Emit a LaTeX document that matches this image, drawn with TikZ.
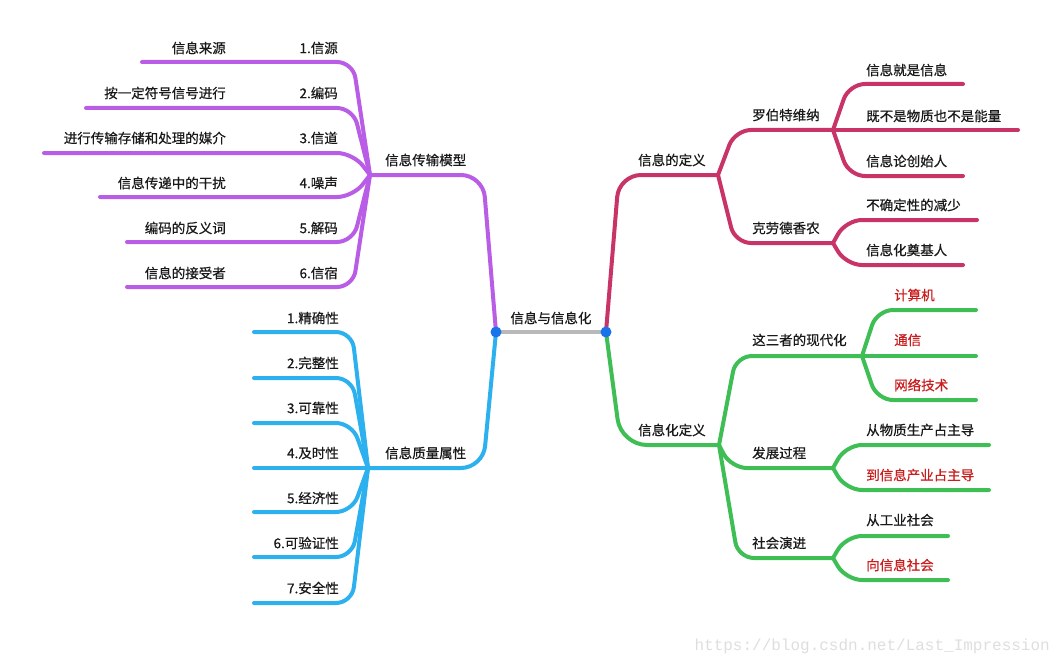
\documentclass[tikz,border=0pt]{standalone}
\usepackage{fontspec}
\setmainfont{Noto Sans CJK SC}[FakeBold=0.6]
\setmonofont{Liberation Mono}
\usepackage{tikz}

\definecolor{purp}{RGB}{185,92,230}
\definecolor{skyb}{RGB}{45,176,238}
\definecolor{rose}{RGB}{200,52,104}
\definecolor{leafg}{RGB}{62,190,85}
\definecolor{hubdot}{RGB}{25,115,235}
\definecolor{redtxt}{RGB}{200,30,30}

\tikzset{
    br/.style={line width=4pt, line cap=round, line join=round, rounded corners=16pt},
    lbl/.style={inner sep=0pt, font=\fontsize{13.5}{15}\selectfont, text=black!90},
    rlbl/.style={lbl, text=redtxt}
}

\begin{document}
\begin{tikzpicture}[x=1pt,y=-1pt]
    \useasboundingbox (0,0) rectangle (1062,666);

    % hubs
    \coordinate (lc) at (496,332);
    \coordinate (rc) at (606,332);
    \coordinate (hp) at (370,175);
    \coordinate (hb) at (368,468);
    \coordinate (hr) at (718,175);
    \coordinate (hg) at (719,445);
    \coordinate (hw) at (833,130);
    \coordinate (hs) at (833,243);
    \coordinate (hm) at (862,356);
    \coordinate (hd) at (833,468);
    \coordinate (hc) at (833,558);

    % free line ends
    \coordinate (p1) at (142,62);
    \coordinate (p2) at (86,108);
    \coordinate (p3) at (44,153);
    \coordinate (p4) at (100,197);
    \coordinate (p5) at (127,242);
    \coordinate (p6) at (127,287);
    \coordinate (b1) at (254,332);
    \coordinate (b2) at (254,378);
    \coordinate (b3) at (254,423);
    \coordinate (b4) at (254,468);
    \coordinate (b5) at (254,512);
    \coordinate (b6) at (254,557);
    \coordinate (b7) at (254,603);
    \coordinate (w1) at (963,84);
    \coordinate (w2) at (1018,130);
    \coordinate (w3) at (963,176);
    \coordinate (s1) at (977,220);
    \coordinate (s2) at (963,265);
    \coordinate (m1) at (976,310);
    \coordinate (m2) at (976,356);
    \coordinate (m3) at (976,400);
    \coordinate (d1) at (989,445);
    \coordinate (d2) at (989,490);
    \coordinate (c1) at (948,536);
    \coordinate (c2) at (948,580);

    % 1. 信息传输模型
    \draw[br, purp, rounded corners=22pt] (lc) -- (483,175) -- (hp);
    \draw[br, purp] (p1) -- (353,62) -- (hp);
    \draw[br, purp] (p2) -- (353,108) -- (hp);
    \draw[br, purp] (p3) -- (353,153) -- (hp);
    \draw[br, purp] (p4) -- (353,197) -- (hp);
    \draw[br, purp] (p5) -- (353,242) -- (hp);
    \draw[br, purp] (p6) -- (353,287) -- (hp);

    % 2. 信息质量属性
    \draw[br, skyb, rounded corners=22pt] (lc) -- (483,468) -- (hb);
    \draw[br, skyb] (b1) -- (352,332) -- (hb);
    \draw[br, skyb] (b2) -- (352,378) -- (hb);
    \draw[br, skyb] (b3) -- (352,423) -- (hb);
    \draw[br, skyb] (b4) -- (hb);
    \draw[br, skyb] (b5) -- (352,512) -- (hb);
    \draw[br, skyb] (b6) -- (352,557) -- (hb);
    \draw[br, skyb] (b7) -- (352,603) -- (hb);

    % 3. 信息的定义
    \draw[br, rose, rounded corners=22pt] (rc) -- (619,175) -- (hr);
    \draw[br, rose] (hr) -- (735,130) -- (hw);
    \draw[br, rose] (hr) -- (735,243) -- (hs);
    \draw[br, rose] (hw) -- (849,84) -- (w1);
    \draw[br, rose] (hw) -- (w2);
    \draw[br, rose] (hw) -- (849,176) -- (w3);
    \draw[br, rose] (hs) -- (846,220) -- (s1);
    \draw[br, rose] (hs) -- (846,265) -- (s2);

    % 4. 信息化定义
    \draw[br, leafg, rounded corners=26pt] (rc) -- (621,445) -- (hg);
    \draw[br, leafg] (hg) -- (736,356) -- (hm);
    \draw[br, leafg] (hg) -- (731,468) -- (hd);
    \draw[br, leafg] (hg) -- (738,558) -- (hc);
    \draw[br, leafg] (hm) -- (877,310) -- (m1);
    \draw[br, leafg] (hm) -- (m2);
    \draw[br, leafg] (hm) -- (877,400) -- (m3);
    \draw[br, leafg] (hd) -- (846,445) -- (d1);
    \draw[br, leafg] (hd) -- (846,490) -- (d2);
    \draw[br, leafg] (hc) -- (846,536) -- (c1);
    \draw[br, leafg] (hc) -- (846,580) -- (c2);

    % root
    \draw[line width=4pt, gray!55] (lc) -- (rc);
    \fill[hubdot] (lc) circle (5.5pt);
    \fill[hubdot] (rc) circle (5.5pt);

    % labels
    \node[lbl] (root) at (551,318) {信息与信息化};
    \node[lbl, anchor=west] (tm) at (385,160) {信息传输模型};
    \node[lbl, anchor=west] (qa) at (385,453) {信息质量属性};
    \node[lbl, anchor=west] (df) at (638,160) {信息的定义};
    \node[lbl, anchor=west] (dz) at (638,430) {信息化定义};

    \node[lbl, anchor=east] (tm1) at (338,48) {1.信源};
    \node[lbl, anchor=east] (tm2) at (338,93) {2.编码};
    \node[lbl, anchor=east] (tm3) at (338,138) {3.信道};
    \node[lbl, anchor=east] (tm4) at (338,183) {4.噪声};
    \node[lbl, anchor=east] (tm5) at (338,228) {5.解码};
    \node[lbl, anchor=east] (tm6) at (338,273) {6.信宿};
    \node[lbl, anchor=east] (tx1) at (226,48) {信息来源};
    \node[lbl, anchor=east] (tx2) at (226,93) {按一定符号信号进行};
    \node[lbl, anchor=east] (tx3) at (226,138) {进行传输存储和处理的媒介};
    \node[lbl, anchor=east] (tx4) at (226,183) {信息传递中的干扰};
    \node[lbl, anchor=east] (tx5) at (226,228) {编码的反义词};
    \node[lbl, anchor=east] (tx6) at (226,273) {信息的接受者};

    \node[lbl, anchor=east] (qa1) at (339,318) {1.精确性};
    \node[lbl, anchor=east] (qa2) at (339,363) {2.完整性};
    \node[lbl, anchor=east] (qa3) at (339,408) {3.可靠性};
    \node[lbl, anchor=east] (qa4) at (339,453) {4.及时性};
    \node[lbl, anchor=east] (qa5) at (339,498) {5.经济性};
    \node[lbl, anchor=east] (qa6) at (339,543) {6.可验证性};
    \node[lbl, anchor=east] (qa7) at (339,588) {7.安全性};

    \node[lbl, anchor=west] (wiener) at (752,115) {罗伯特维纳};
    \node[lbl, anchor=west] (shannon) at (752,228) {克劳德香农};
    \node[lbl, anchor=west] (wt1) at (866,70) {信息就是信息};
    \node[lbl, anchor=west] (wt2) at (866,116) {既不是物质也不是能量};
    \node[lbl, anchor=west] (wt3) at (866,161) {信息论创始人};
    \node[lbl, anchor=west] (st1) at (866,205) {不确定性的减少};
    \node[lbl, anchor=west] (st2) at (866,250) {信息化奠基人};

    \node[lbl, anchor=west] (modern) at (752,340) {这三者的现代化};
    \node[lbl, anchor=west] (develop) at (752,453) {发展过程};
    \node[lbl, anchor=west] (society) at (752,543) {社会演进};
    \node[rlbl, anchor=west] (mt1) at (894,295) {计算机};
    \node[rlbl, anchor=west] (mt2) at (894,340) {通信};
    \node[rlbl, anchor=west] (mt3) at (894,385) {网络技术};
    \node[lbl, anchor=west] (dt1) at (866,430) {从物质生产占主导};
    \node[rlbl, anchor=west] (dt2) at (866,475) {到信息产业占主导};
    \node[lbl, anchor=west] (ct1) at (866,520) {从工业社会};
    \node[rlbl, anchor=west] (ct2) at (866,565) {向信息社会};

    \node[anchor=east, inner sep=0pt, font=\ttfamily\fontsize{16}{18}\selectfont, text=black!13] (mark) at (1050,646) {https://blog.csdn.net/Last\_Impression};
\end{tikzpicture}
\end{document}
